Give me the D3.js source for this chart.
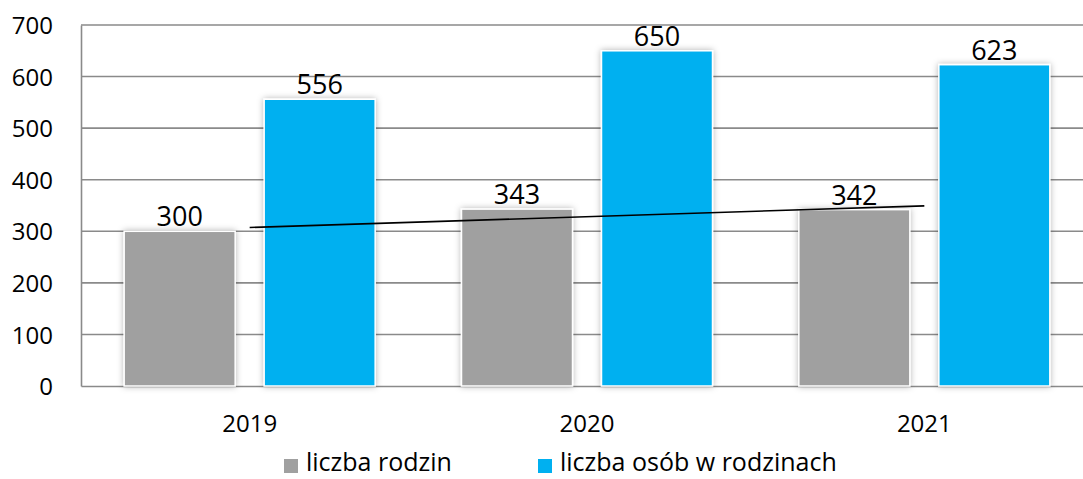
<!DOCTYPE html>
<html>
<head>
<meta charset="utf-8">
<script src="https://cdn.jsdelivr.net/npm/d3@7"></script>
<style>
  body { margin: 0; background: #fff; }
  text { font-family: "Open Sans", sans-serif; fill: #000; }
</style>
</head>
<body>
<div id="chart"></div>
<script>
// data
var years = ["2019", "2020", "2021"];
var rodziny = [300, 343, 342];
var osoby = [556, 650, 623];
var seriesNames = ["liczba rodzin", "liczba osób w rodzinach"];
var seriesColors = ["#a0a0a0", "#00b0f0"];
var yTicks = [0, 100, 200, 300, 400, 500, 600, 700];

var W = 1083, H = 479;
var margin = {top: 25, right: -10, bottom: 93, left: 81},
    width = W - margin.left - margin.right,
    height = H - margin.top - margin.bottom;

var svg = d3.select("#chart")
  .append("svg")
    .attr("width", W)
    .attr("height", H)

// soft shadow round the bars
var defs = svg.append("defs");
var f = defs.append("filter").attr("id", "shadow")
  .attr("x", "-20%").attr("y", "-5%").attr("width", "140%").attr("height", "110%");
f.append("feDropShadow").attr("dx", 0).attr("dy", 0).attr("stdDeviation", 3)
  .attr("flood-color", "#000").attr("flood-opacity", 0.3);

var g = svg.append("g")
    .attr("transform", "translate(" + margin.left + "," + margin.top + ")");

var x = d3.scaleBand().domain(years).range([0, width]);
var y = d3.scaleLinear().domain([0, 700]).range([height, 0]);

// gridlines
g.selectAll(".grid")
  .data(yTicks.filter(function(d){ return d > 0; }))
  .enter().append("line")
    .attr("x1", 0).attr("x2", width)
    .attr("y1", function(d){ return y(d); })
    .attr("y2", function(d){ return y(d); })
    .style("stroke", "#8a8a8a").style("stroke-width", 1.6);

// y axis
var yAxis = g.append("g").call(d3.axisLeft(y).tickValues(yTicks).tickSize(0).tickPadding(28));
yAxis.select(".domain").style("stroke", "#8a8a8a").style("stroke-width", 1.6);
yAxis.selectAll("text").style("font-size", "24px").attr("dy", "0.36em").style("font-family", "Open Sans");

// x axis
var xAxis = g.append("g").attr("transform", "translate(0," + height + ")")
  .call(d3.axisBottom(x).tickSize(0).tickPadding(29));
xAxis.select(".domain").style("stroke", "#8a8a8a").style("stroke-width", 1.6);
xAxis.selectAll("text").style("font-size", "24px").style("font-family", "Open Sans");

// bars
var barW = 111, offset = 70;
var series = [rodziny, osoby];
series.forEach(function(vals, i) {
  var dx = i === 0 ? -offset : offset;
  var cx = function(d, j){ return x(years[j]) + x.bandwidth() / 2 + dx; };
  g.selectAll(".bar" + i)
    .data(vals)
    .enter().append("rect")
      .attr("x", function(d, j){ return cx(d, j) - barW / 2; })
      .attr("y", function(d){ return y(d); })
      .attr("width", barW)
      .attr("height", function(d){ return height - y(d); })
      .style("fill", seriesColors[i])
      .style("stroke", "#fff").style("stroke-width", 1.5)
      .attr("filter", "url(#shadow)");
  g.selectAll(".lab" + i)
    .data(vals)
    .enter().append("text")
      .attr("x", function(d, j){ return cx(d, j); })
      .attr("y", function(d){ return y(d) - 5; })
      .attr("text-anchor", "middle")
      .style("font-size", "27px")
      .text(function(d){ return d; });
});

// linear trend of liczba rodzin
var n = rodziny.length,
    mx = d3.mean(rodziny, function(d, i){ return i + 1; }),
    my = d3.mean(rodziny);
var slope = d3.sum(rodziny, function(d, i){ return (i + 1 - mx) * (d - my); }) /
            d3.sum(rodziny, function(d, i){ return (i + 1 - mx) * (i + 1 - mx); });
var trend = function(k){ return my + slope * (k - mx); };
g.append("line")
  .attr("x1", x(years[0]) + x.bandwidth() / 2)
  .attr("x2", x(years[n - 1]) + x.bandwidth() / 2)
  .attr("y1", y(trend(1)))
  .attr("y2", y(trend(n)))
  .style("stroke", "#000").style("stroke-width", 1.6);

// legend
var legX = [284, 538];
seriesNames.forEach(function(name, i) {
  svg.append("rect").attr("x", legX[i]).attr("y", 459).attr("width", 14).attr("height", 14)
    .style("fill", seriesColors[i]);
  svg.append("text").attr("x", legX[i] + 22).attr("y", 471).text(name)
    .style("font-size", "25px");
});
</script>
</body>
</html>
